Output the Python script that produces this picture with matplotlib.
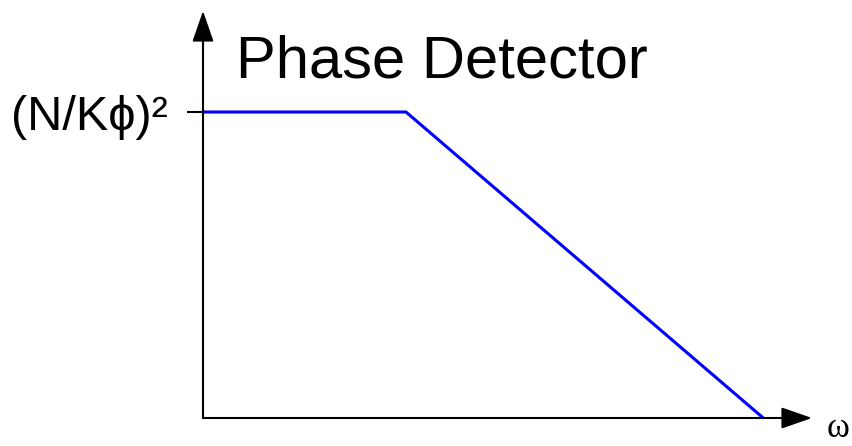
import matplotlib
matplotlib.use("Agg")
import matplotlib.pyplot as plt

# asymptotic noise transfer of the phase detector (normalised units)
omega = [0.0, 1.0, 2.76]
gain = [1.0, 1.0, 0.0]
tick_values = [1.0]
tick_labels = ["(N/K\u03d5)\u00b2"]
title = "Phase Detector"
x_name = "\u03c9"

W, H = 852, 446
fig = plt.figure(figsize=(W / 100, H / 100), dpi=100)

# axes box: origin at (203, 418) px, arrow tips at x=812 and y=11
x0, y0, x1, y1 = 203, 418, 812, 11
ax = fig.add_axes([x0 / W, 1 - y0 / H, (x1 - x0) / W, (y0 - y1) / H])
ax.set_xlim(0, (x1 - x0) / 203)
ax.set_ylim(0, (y0 - y1) / 306)

for s in ax.spines.values():
    s.set_visible(False)

# axis arrows
arrow = dict(arrowstyle="-|>,head_length=0.95,head_width=0.33", mutation_scale=20,
             lw=1.5, color="black", shrinkA=0, shrinkB=0)
ax.annotate("", xy=(1, 0), xytext=(0, 0), xycoords="axes fraction", arrowprops=arrow)
ax.annotate("", xy=(0, 1), xytext=(0, 0), xycoords="axes fraction", arrowprops=arrow)

ax.plot(omega, gain, color="#0000ff", lw=2.2, solid_capstyle="butt", clip_on=False)

ax.set_xticks([])
ax.set_yticks(tick_values)
ax.set_yticklabels(tick_labels, family=["Liberation Sans", "DejaVu Sans"], fontsize=35)
ax.tick_params(axis="y", length=11.5, width=1.5, pad=14, direction="out")

fig.text(236 / W, 1 - 77 / H, title, family="Liberation Sans", fontsize=43,
         ha="left", va="baseline")
fig.text(838 / W, 1 - 445 / H, x_name, family="Liberation Serif", fontsize=25,
         ha="center", va="bottom")

fig.savefig("out.png", dpi=100)
